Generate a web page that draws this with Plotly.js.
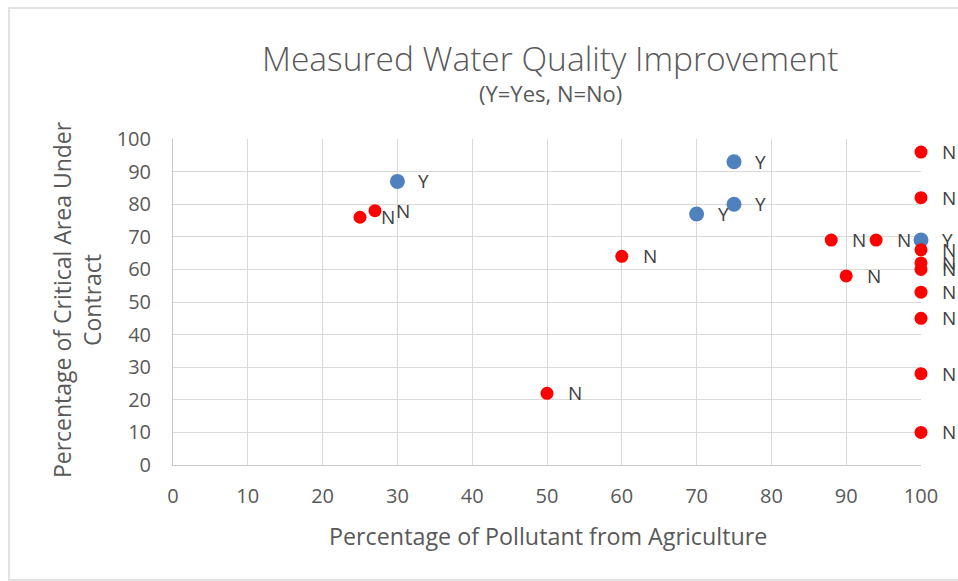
<!DOCTYPE html>
<html>
<head>
<meta charset="utf-8">
<script src="https://cdn.plot.ly/plotly-3.0.1.min.js"></script>
<style>html,body{margin:0;padding:0;background:#fff;}#chart{width:958px;height:581px;}</style>
</head>
<body>
<div id="chart"></div>
<script>
// Improvement = Yes
const yesX = [30, 75, 75, 70, 100];
const yesY = [87, 93, 80, 77, 69];
const yesLabel = "Y";
// Improvement = No
const noX = [25, 27, 60, 50, 88, 94, 90, 100, 100, 100, 100, 100, 100, 100, 100, 100];
const noY = [76, 78, 64, 22, 69, 69, 58, 96, 82, 66, 62, 60, 53, 45, 28, 10];
const noLabel = "N";

const titleText = "Measured Water Quality Improvement";
const subtitleText = "(Y=Yes, N=No)";
const xTitle = "Percentage of Pollutant from Agriculture";
const yTitle = "Percentage of Critical Area Under<br>Contract";

const FONT = "'Open Sans', Lato, sans-serif";
const GRID = "#D9D9D9";
const AXIS = "#C8C8C8";
const TXT = "#595959";

const traces = [
  {x: yesX, y: yesY, type: "scatter", mode: "markers", name: "Yes",
   marker: {color: "#4F81BD", size: 15}, cliponaxis: false, hoverinfo: "x+y"},
  {x: noX, y: noY, type: "scatter", mode: "markers", name: "No",
   marker: {color: "#FF0000", size: 13}, cliponaxis: false, hoverinfo: "x+y"}
];

const annotations = [];
function addLabels(xs, ys, label) {
  xs.forEach((xv, i) => {
    annotations.push({x: xv, y: ys[i], xref: "x", yref: "y", text: label, showarrow: false,
      xanchor: "left", yanchor: "middle", xshift: 19,
      font: {family: FONT, size: 19, color: "#404040"}});
  });
}
addLabels(yesX, yesY, yesLabel);
addLabels(noX, noY, noLabel);

annotations.push({x: 0.505, y: 1.25, xref: "paper", yref: "paper", text: titleText, showarrow: false,
  xanchor: "center", yanchor: "middle", font: {family: FONT, size: 33.5, color: TXT, weight: 300}});
annotations.push({x: 0.505, y: 1.142, xref: "paper", yref: "paper", text: subtitleText, showarrow: false,
  xanchor: "center", yanchor: "middle", font: {family: FONT, size: 22, color: TXT}});
annotations.push({x: 0.501, y: -0.2178, xref: "paper", yref: "paper", text: xTitle, showarrow: false,
  xanchor: "center", yanchor: "middle", font: {family: FONT, size: 23.3, color: TXT}});
annotations.push({x: -0.1283, y: 0.506, xref: "paper", yref: "paper", text: yTitle, showarrow: false,
  textangle: -90, xanchor: "center", yanchor: "middle", font: {family: FONT, size: 23, color: TXT}});

const layout = {
  width: 958, height: 581,
  margin: {l: 173, r: 37, t: 139, b: 116},
  paper_bgcolor: "#fff", plot_bgcolor: "#fff",
  showlegend: false,
  font: {family: FONT, color: TXT},
  xaxis: {range: [0, 100], dtick: 10, tick0: 0, showgrid: true, gridcolor: GRID, gridwidth: 1,
    showline: true, linecolor: AXIS, linewidth: 1, zeroline: false, ticks: "",
    ticklabelstandoff: 13, tickfont: {family: FONT, size: 20, color: TXT}, fixedrange: true},
  yaxis: {range: [0, 100], dtick: 10, tick0: 0, showgrid: true, gridcolor: GRID, gridwidth: 1,
    showline: true, linecolor: AXIS, linewidth: 1, zeroline: false, ticks: "",
    ticklabelstandoff: 17, tickfont: {family: FONT, size: 20, color: TXT}, fixedrange: true},
  annotations: annotations,
  shapes: [{type: "rect", xref: "paper", yref: "paper", x0: -0.2193, x1: 1.06, y0: -0.3528, y1: 1.4018,
    line: {color: GRID, width: 1.5}, fillcolor: "rgba(0,0,0,0)", layer: "below"}]
};

Plotly.newPlot("chart", traces, layout, {displayModeBar: false, staticPlot: true});
</script>
</body>
</html>
